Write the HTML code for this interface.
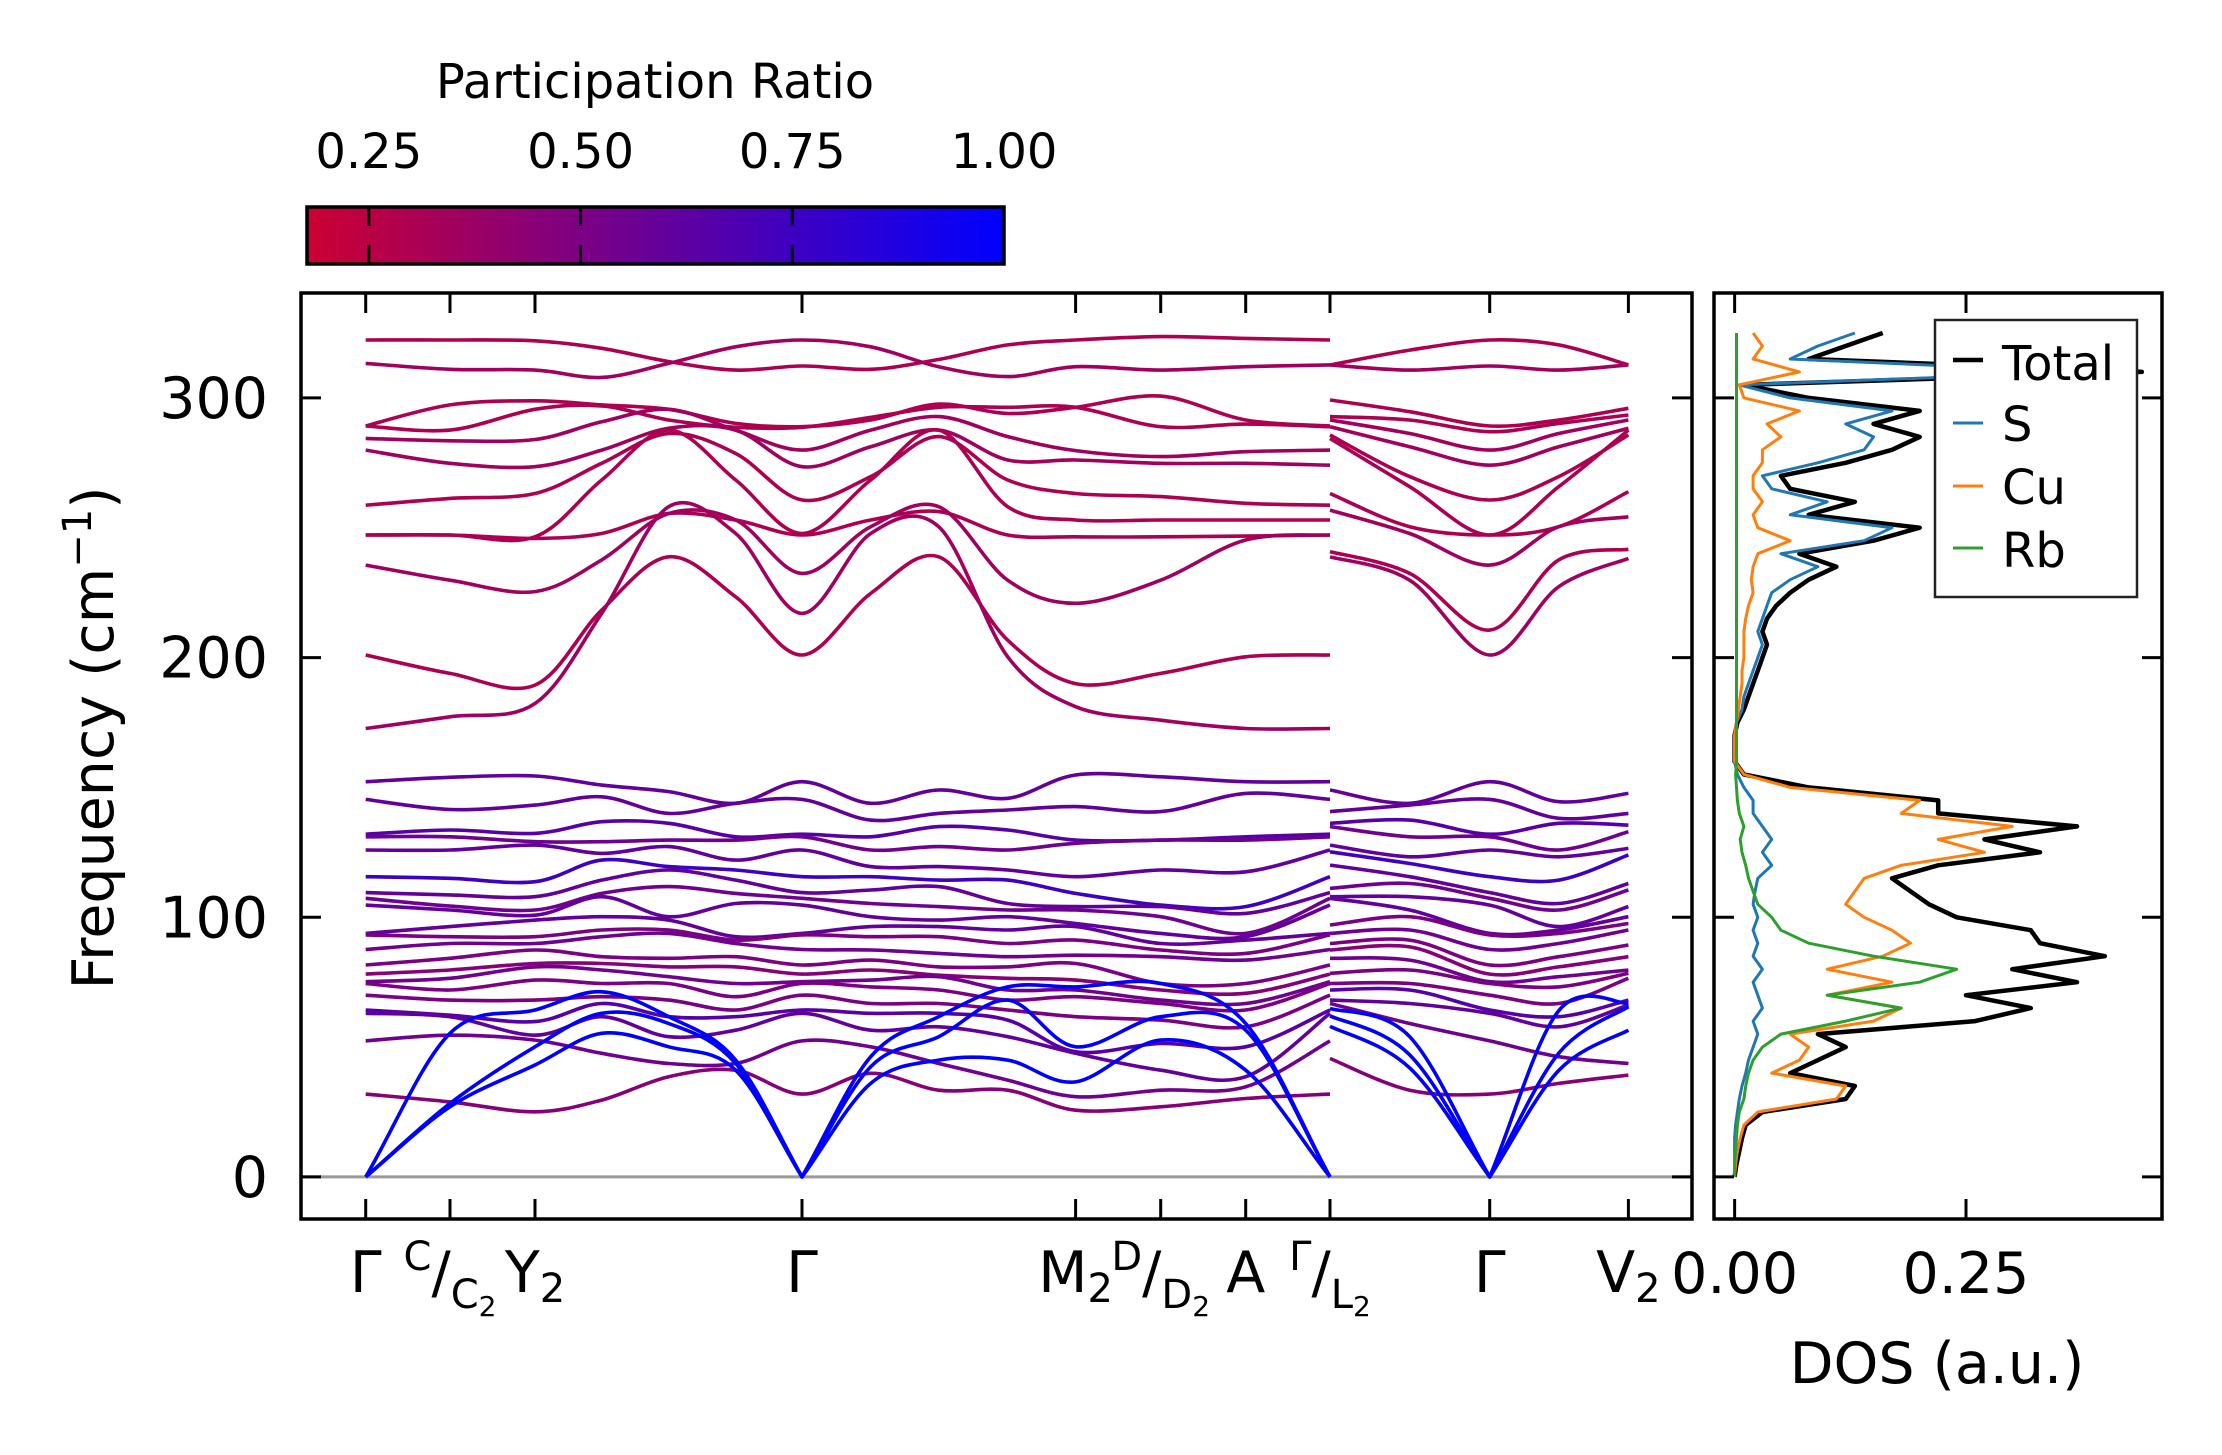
<!DOCTYPE html>
<html><head><meta charset="utf-8"><style>
html,body{margin:0;padding:0;background:#fff;}
svg{display:block;font-family:"DejaVu Sans","Liberation Sans",sans-serif;}
</style></head><body>
<svg id="fig" xmlns="http://www.w3.org/2000/svg" width="2222" height="1455" viewBox="0 0 2222 1455">
<defs>
<linearGradient id="cbg" x1="0" x2="1" y1="0" y2="0">
<stop offset="0" stop-color="rgb(204,0,51)"/><stop offset="1" stop-color="rgb(0,0,255)"/>
</linearGradient>
<clipPath id="mainclip"><rect x="301" y="293" width="1391" height="926"/></clipPath>
<clipPath id="dosclip"><rect x="1714" y="293" width="448" height="926"/></clipPath>
</defs>
<rect width="2222" height="1455" fill="#fff"/>
<g id="colorbar">
<text x="655" y="98" font-size="48" text-anchor="middle">Participation Ratio</text>
<rect x="307" y="207" width="697" height="57" fill="url(#cbg)" stroke="#000" stroke-width="3.5"/>
</g>
<g id="bands" clip-path="url(#mainclip)"></g>
<g id="dos" clip-path="url(#dosclip)"></g>
<g id="axes"></g>
<g id="legend">
<rect x="1935" y="320" width="202" height="277" fill="#fff" stroke="#222" stroke-width="2.5"/>
<line x1="1953" x2="1983" y1="360" y2="360" stroke="#000" stroke-width="4.5"/>
<text x="2002" y="380" font-size="48">Total</text>
<line x1="1953" x2="1983" y1="423" y2="423" stroke="#1f77b4" stroke-width="3"/>
<text x="2002" y="441" font-size="48">S</text>
<line x1="1953" x2="1983" y1="486" y2="486" stroke="#ff7f0e" stroke-width="3"/>
<text x="2002" y="504" font-size="48">Cu</text>
<line x1="1953" x2="1983" y1="548" y2="548" stroke="#2ca02c" stroke-width="3"/>
<text x="2002" y="567" font-size="48">Rb</text>
</g>
</svg>
<script>
// ---------- data ----------
var kTicks = [0, 0.843, 1.693, 4.363, 7.099, 7.95, 8.80, 9.643, 11.24, 12.627];
var kLabels = ["Γ", "C/C2", "Y2", "Γ", "M2", "D/D2", "A", "Γ/L2", "Γ", "V2"];
var kLeft = [0, 0.843, 1.693, 2.36, 3.03, 3.70, 4.363, 5.05, 5.73, 6.42, 7.099, 7.95, 8.80, 9.643];
var kRight = [9.643, 10.44, 11.24, 11.93, 12.627];
var freqTicks = [0, 100, 200, 300];
var cbTicks = [0.25, 0.50, 0.75, 1.00];
var dosTicks = [0.00, 0.25];

var upperLeft = [
[322.3,322.3,322.0,319.1,314.0,310.7,312.3,311.0,314.8,320.4,322.3,323.6,322.9,322.3],
[313.3,311.0,310.7,307.9,313.3,319.7,322.3,319.7,312.0,308.2,312.0,310.7,312.0,312.7],
[289.2,297.3,298.9,297.3,295.6,290.2,288.9,291.5,297.6,294.0,296.4,300.7,291.5,289.2],
[289.2,287.6,295.6,296.9,291.5,288.7,288.7,292.5,296.4,296.4,296.4,288.9,289.9,288.9],
[284.4,283.5,284.0,290.8,295.6,287.6,279.9,287.6,292.8,285.1,279.7,277.4,279.3,279.9],
[279.9,274.8,273.5,279.9,288.3,287.6,273.5,281.2,287.6,276.1,276.1,274.8,274.8,274.1],
[258.7,261.3,263.2,274.8,286.3,278.6,260.7,269.7,285.1,268.4,263.2,262.0,259.4,258.7],
[247.2,247.2,246.5,268.4,287.6,268.4,247.8,268.4,287.6,258.1,253.0,253.0,253.0,253.0],
[247.2,247.2,245.9,247.8,255.5,253.0,247.2,253.0,256.2,247.2,246.5,246.5,246.8,247.2],
[235.6,229.8,225.4,237.6,255.5,253.0,232.4,250.4,258.1,229.8,220.9,229.8,245.3,247.2],
[201.0,193.9,189.4,218.3,238.8,223.4,201.0,224.7,238.8,206.7,190.0,193.9,200.3,201.0],
[172.7,177.2,182.3,217.0,258.1,247.8,217.0,247.8,250.4,200.3,181.1,175.9,172.7,172.7]
];
var upperRight = [
[312.7,318.4,322.3,320.4,312.7],
[312.7,310.7,312.3,310.7,312.7],
[299.2,294.7,289.2,291.5,296.0],
[292.8,291.5,287.0,290.2,293.4],
[291.5,286.3,279.9,286.3,291.5],
[288.9,281.2,274.1,281.2,288.3],
[285.7,269.7,260.7,269.7,285.7],
[284.4,265.8,247.2,265.8,287.6],
[263.2,250.4,247.2,250.4,263.9],
[256.8,247.8,235.6,250.4,254.2],
[240.8,232.4,210.6,237.6,241.7],
[238.8,229.8,201.0,227.3,238.2]
];
var upperPR = [0.30,0.35,0.30,0.30,0.35,0.35,0.30,0.30,0.30,0.35,0.30,0.35];

var gammaLow = [152.2,145.4,132.0,131.0,125.9,115.6,109.5,107.3,104.7,93.8,93.2,87.6,81.6,78.1,75.2,74.5,70.0,64.3,63.0,52.4,31.9];
var lowerLeftQ = [
gammaLow,
[153.9,141.5,133.6,131.0,125.9,115.0,108.6,104.3,102.8,96.4,92.5,89.9,84.2,79.7,76.5,72.0,68.1,62.3,61.7,54.6,28.9],
[154.4,143.2,132.3,129.1,127.8,113.7,107.9,102.8,100.8,98.9,92.5,89.9,87.4,82.2,80.9,75.8,68.1,59.8,54.6,52.7,25.1],
[150.9,146.4,136.8,129.1,124.6,122.0,114.3,109.2,107.9,100.2,95.1,92.5,84.8,82.2,79.7,74.5,69.4,66.8,61.7,47.6,29.6],
[148.4,140.0,136.2,129.7,127.2,119.5,118.2,111.8,100.2,98.9,95.1,93.8,84.2,80.9,77.1,74.5,68.1,61.7,54.0,43.7,38.6],
[143.9,143.9,131.0,129.7,122.0,118.2,114.3,109.2,105.3,92.5,91.2,89.9,84.8,80.9,74.5,69.4,64.3,61.7,56.5,43.7,41.1],
gammaLow,
[143.9,137.4,131.0,125.9,119.5,115.6,110.5,105.3,100.2,96.4,92.5,87.4,83.5,79.7,75.8,73.2,66.8,63.0,56.5,50.1,39.9],
[149.0,140.0,134.9,127.2,119.5,114.3,111.8,104.1,98.9,96.4,92.5,86.1,80.9,77.7,77.1,72.0,66.8,63.0,57.8,43.7,33.4],
[145.8,141.3,133.6,125.9,118.2,114.3,105.3,102.8,100.2,95.1,89.9,84.8,80.9,76.5,72.0,68.1,64.3,60.4,54.0,37.3,33.4],
[154.8,142.6,129.7,128.5,115.6,109.2,104.1,102.8,97.6,96.4,91.2,85.4,82.2,75.8,72.0,69.4,61.7,48.2,47.6,30.9,25.7],
[154.1,140.7,129.7,129.7,118.2,104.7,104.1,100.2,93.8,89.9,87.4,84.8,74.5,72.0,68.1,66.8,60.4,51.4,41.1,33.4,27.0],
[152.2,147.7,131.0,129.7,117.5,104.1,101.5,93.8,92.5,91.2,86.1,83.5,74.5,70.7,66.8,64.3,57.8,50.1,38.6,34.7,30.2],
gammaLow
];
var lowerRightQ = [
[149.0,140.7,136.2,134.9,127.8,125.2,120.1,111.1,107.9,107.3,97.0,93.8,89.9,87.4,84.2,78.4,74.5,72.0,68.1,66.8,45.6],
[143.9,143.2,137.4,131.0,123.3,120.7,115.6,113.0,107.9,102.8,100.2,95.1,91.2,88.6,83.5,79.7,74.5,72.0,66.8,59.1,33.4],
gammaLow,
[144.5,138.1,136.2,125.9,123.3,114.3,105.3,102.8,96.4,95.1,93.8,89.9,84.8,80.9,77.1,73.2,66.8,61.7,57.8,46.3,36.0],
[147.7,140.0,135.5,132.9,126.5,124.0,113.0,110.5,104.1,100.2,97.6,95.1,89.3,84.8,79.7,78.4,76.5,68.1,66.2,43.7,39.2]
];
var lowerPR = [0.60,0.60,0.65,0.55,0.60,0.75,0.60,0.55,0.60,0.60,0.50,0.55,0.50,0.45,0.55,0.50,0.50,0.65,0.60,0.55,0.45];

var acousticLeftQ = [[0,0,0],[55.3,28.3,27.0],[64.3,50.1,43.1],[71.3,63.0,55.3],[61.7,59.1,50.1],[45.0,43.7,41.1],[0,0,0],
 [46.3,42.4,36.0],[61.7,54.0,45.0],[73.2,68.1,45.0],[73.2,50.1,36.6],[74.5,61.7,52.7],[59.1,56.5,41.1],[0,0,0]];
var acousticRightQ = [[64.9,62.0,58.0],[54.0,47.0,42.0],[0,0,0],[64.0,47.6,41.0],[66.8,65.5,56.5]];
var acousticPR = 1.0;

var dosFreq = [0,5,10,15,20,25,30,35,40,45,50,55,60,65,70,75,80,85,90,95,100,105,110,115,120,125,130,135,140,145,150,155,160,165,170,175,180,185,190,195,200,205,210,215,220,225,230,235,240,245,250,255,260,265,270,275,280,285,290,295,300,305,310,315,320,325];
var dosTotal = [0,0.002,0.005,0.008,0.012,0.03,0.12,0.13,0.06,0.09,0.12,0.09,0.26,0.32,0.25,0.37,0.30,0.40,0.33,0.32,0.24,0.21,0.19,0.17,0.22,0.33,0.27,0.37,0.22,0.22,0.08,0.01,0,0,0,0.003,0.01,0.015,0.02,0.025,0.03,0.035,0.03,0.035,0.045,0.06,0.08,0.11,0.07,0.15,0.2,0.08,0.13,0.06,0.05,0.12,0.17,0.2,0.15,0.2,0.08,0.01,0.44,0.08,0.12,0.16];
var dosS = [0,0,0,0,0.001,0.003,0.005,0.008,0.012,0.015,0.02,0.025,0.02,0.03,0.025,0.02,0.03,0.02,0.025,0.02,0.025,0.02,0.022,0.025,0.04,0.03,0.04,0.03,0.02,0.02,0.01,0.003,0,0,0,0.002,0.008,0.01,0.015,0.02,0.025,0.03,0.025,0.03,0.035,0.04,0.06,0.09,0.05,0.14,0.17,0.06,0.1,0.04,0.03,0.09,0.14,0.15,0.12,0.17,0.06,0.005,0.38,0.06,0.09,0.13];
var dosCu = [0,0.001,0.003,0.006,0.01,0.025,0.11,0.12,0.04,0.07,0.08,0.06,0.15,0.18,0.10,0.17,0.10,0.16,0.19,0.17,0.14,0.12,0.13,0.14,0.18,0.27,0.22,0.30,0.18,0.20,0.06,0.01,0,0,0,0.002,0.004,0.006,0.008,0.008,0.01,0.01,0.01,0.012,0.015,0.02,0.018,0.02,0.025,0.06,0.025,0.02,0.03,0.02,0.02,0.03,0.03,0.05,0.035,0.07,0.01,0.005,0.07,0.02,0.03,0.02];
var dosRb = [0,0,0.001,0.002,0.003,0.005,0.01,0.012,0.015,0.02,0.03,0.05,0.12,0.18,0.10,0.20,0.24,0.15,0.08,0.05,0.04,0.025,0.02,0.015,0.012,0.008,0.006,0.01,0.005,0.003,0.002,0.001,0.002,0.002,0.002,0.002,0.002,0.002,0.002,0.002,0.002,0.002,0.002,0.002,0.002,0.002,0.002,0.002,0.002,0.002,0.002,0.002,0.002,0.002,0.002,0.002,0.002,0.002,0.002,0.002,0.002,0.002,0.002,0.002,0.002,0.002];

// ---------- scales ----------
var NS = "http://www.w3.org/2000/svg";
var kMin = -0.647, kMax = 13.263, fMin = -16.2, fMax = 340.4, dMin = -0.0223, dMax = 0.4618;
function xk(k){ return 301 + (k - kMin) / (kMax - kMin) * 1391; }
function yf(f){ return 1219 - (f - fMin) / (fMax - fMin) * 926; }
function xd(d){ return 1714 + (d - dMin) / (dMax - dMin) * 448; }
function xcb(v){ return 307 + (v - 0.177) / (1 - 0.177) * 697; }
function prColor(p){ var t = Math.max(0, Math.min(1, (p - 0.177) / (1 - 0.177)));
  return "rgb(" + Math.round(204 * (1 - t)) + ",0," + Math.round(51 + 204 * t) + ")"; }
function mk(tag, attrs, parent){ var e = document.createElementNS(NS, tag);
  for (var a in attrs) e.setAttribute(a, attrs[a]); parent.appendChild(e); return e; }
// Catmull-Rom; points flagged as "kink" (zero-frequency Γ) use one-sided tangents
function smooth(pts, kinks){ kinks = kinks || [];
  var d = "M" + pts[0][0].toFixed(1) + "," + pts[0][1].toFixed(1);
  for (var i = 0; i < pts.length - 1; i++){
    var p1 = pts[i], p2 = pts[i+1];
    var p0 = (kinks[i] || !pts[i-1]) ? p1 : pts[i-1];
    var p3 = (kinks[i+1] || !pts[i+2]) ? p2 : pts[i+2];
    var c1x, c1y, c2x, c2y;
    if (kinks[i]) { c1x = p1[0] + (p2[0]-p1[0])/3; c1y = p1[1] + (p2[1]-p1[1])/3; }
    else { c1x = p1[0] + (p2[0]-p0[0])/6; c1y = p1[1] + (p2[1]-p0[1])/6; }
    if (kinks[i+1]) { c2x = p2[0] - (p2[0]-p1[0])/3; c2y = p2[1] - (p2[1]-p1[1])/3; }
    else { c2x = p2[0] - (p3[0]-p1[0])/6; c2y = p2[1] - (p3[1]-p1[1])/6; }
    d += "C" + c1x.toFixed(1) + "," + c1y.toFixed(1) + " " + c2x.toFixed(1) + "," + c2y.toFixed(1) + " " + p2[0].toFixed(1) + "," + p2[1].toFixed(1); }
  return d; }
function linear(pts){ return pts.map(function(p, i){ return (i ? "L" : "M") + p[0].toFixed(1) + "," + p[1].toFixed(1); }).join(""); }

// ---------- bands ----------
var gB = document.getElementById("bands");
mk("line", {x1: 301, x2: 1692, y1: yf(0), y2: yf(0), stroke: "#999", "stroke-width": 3,  }, gB);
function drawBand(ks, vals, pr, name){
  var pts = ks.map(function(k, i){ return [xk(k), yf(vals[i])]; });
  var kinks = vals.map(function(v){ return v === 0; });
  var p = mk("path", {d: smooth(pts, kinks), fill: "none", stroke: prColor(pr), "stroke-width": 3.6, "stroke-linejoin": "round"}, gB);
  
  
}
var nLow = lowerPR.length;
for (var j = 0; j < nLow; j++){
  drawBand(kLeft, lowerLeftQ.map(function(c){ return c[j]; }), lowerPR[j], "band-low-" + j + "-left");
  drawBand(kRight, lowerRightQ.map(function(c){ return c[j]; }), lowerPR[j], "band-low-" + j + "-right");
}
for (var a = 0; a < 3; a++){
  drawBand(kLeft, acousticLeftQ.map(function(c){ return c[a]; }), acousticPR, "acoustic-band-" + a + "-left");
  drawBand(kRight, acousticRightQ.map(function(c){ return c[a]; }), acousticPR, "acoustic-band-" + a + "-right");
}
for (var u = 0; u < upperLeft.length; u++){
  drawBand(kLeft, upperLeft[u], upperPR[u], "band-up-" + u + "-left");
  drawBand(kRight, upperRight[u], upperPR[u], "band-up-" + u + "-right");
}

// ---------- DOS ----------
var gD = document.getElementById("dos");
function drawDos(vals, color, w, name){
  var pts = dosFreq.map(function(f, i){ return [xd(vals[i]), yf(f)]; });
  var p = mk("path", {d: linear(pts), fill: "none", stroke: color, "stroke-width": w, "stroke-linejoin": "round"}, gD);
  
  
}
drawDos(dosTotal, "#000", 4.5, "dos-total-line");
drawDos(dosS, "#1f77b4", 3, "dos-s-line");
drawDos(dosCu, "#ff7f0e", 3, "dos-cu-line");
drawDos(dosRb, "#2ca02c", 3, "dos-rb-line");

// ---------- axes ----------
var gA = document.getElementById("axes");
var fr1 = mk("rect", {x: 301, y: 293, width: 1391, height: 926, fill: "none", stroke: "#000", "stroke-width": 3.5}, gA);


var fr2 = mk("rect", {x: 1714, y: 293, width: 448, height: 926, fill: "none", stroke: "#000", "stroke-width": 3.5}, gA);


function tick(x1, y1, x2, y2, name){ var t = mk("line", {x1: x1, y1: y1, x2: x2, y2: y2, stroke: "#000", "stroke-width": 3}, gA);
  
   }
kTicks.forEach(function(k, i){ var x = xk(k); tick(x, 1219, x, 1199, "x-tick"); tick(x, 293, x, 313, "x-tick-top"); });
freqTicks.forEach(function(f){ var y = yf(f);
  tick(301, y, 321, y, "y-tick"); tick(1692, y, 1672, y, "y-tick-right");
  tick(1714, y, 1734, y, "dos-y-tick"); tick(2162, y, 2142, y, "dos-y-tick-right");
  var t = mk("text", {x: 268, y: y + 20, "font-size": 57, "text-anchor": "end"}, gA); t.textContent = String(f);
  
   });
dosTicks.forEach(function(d){ var x = xd(d); tick(x, 1219, x, 1199, "dos-x-tick"); tick(x, 293, x, 313, "dos-x-tick-top");
  var t = mk("text", {x: x, y: 1293, "font-size": 57, "text-anchor": "middle"}, gA); t.textContent = d.toFixed(2);
  
   });
cbTicks.forEach(function(v){ var x = xcb(v);
  if (v < 1) { tick(x, 207, x, 226, "colorbar-tick"); tick(x, 264, x, 245, "colorbar-tick-bottom"); }
  var t = mk("text", {x: x, y: 168, "font-size": 48, "text-anchor": "middle"}, gA); t.textContent = v.toFixed(2);
  
   });
kLabels.forEach(function(lab, i){ var x = xk(kTicks[i]);
  var t = mk("text", {x: x, y: 1292, "font-size": 57, "text-anchor": "middle"}, gA);
  
  
  if (lab.indexOf("/") > 0) { var parts = lab.split("/"); var sub = parts[1];
    var s1 = mk("tspan", {"font-size": 40, dy: -22}, t); s1.textContent = parts[0];
    var s2 = mk("tspan", {"font-size": 57, dy: 22}, t); s2.textContent = "/";
    var s3 = mk("tspan", {"font-size": 40, dy: 16}, t); s3.textContent = sub.replace(/2$/, "");
    var s4 = mk("tspan", {"font-size": 28, dy: 8}, t); s4.textContent = "2";
  } else if (/2$/.test(lab)) {
    var a1 = mk("tspan", {}, t); a1.textContent = lab.slice(0, -1);
    var a2 = mk("tspan", {"font-size": 40, dy: 10}, t); a2.textContent = "2";
  } else { t.textContent = lab; } });
var yt = mk("text", {x: 0, y: 0, "font-size": 57, "text-anchor": "middle", transform: "translate(113,738) rotate(-90)"}, gA);


var yt1 = mk("tspan", {}, yt); yt1.textContent = "Frequency (cm";
var yt2 = mk("tspan", {"font-size": 40, dy: -22}, yt); yt2.textContent = "−1";
var yt3 = mk("tspan", {dy: 22}, yt); yt3.textContent = ")";
var xt = mk("text", {x: 1937, y: 1383, "font-size": 57, "text-anchor": "middle"}, gA); xt.textContent = "DOS (a.u.)";


</script>
</body></html>
